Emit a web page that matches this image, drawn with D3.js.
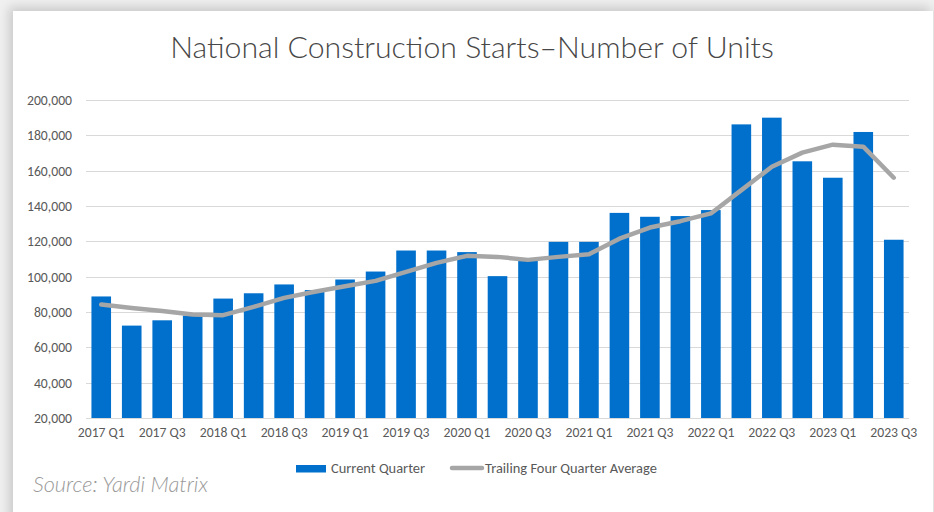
<!DOCTYPE html>
<html>
<head>
<meta charset="utf-8">
<script src="https://cdn.jsdelivr.net/npm/d3@7"></script>
<style>
  html, body { margin: 0; padding: 0; background: #f0f0f0; overflow: hidden; }
  #card {
    position: absolute; left: 13px; top: 11px; width: 920px; height: 520px;
    background: #fff;
    box-shadow: -4px -4px 10px rgba(0,0,0,0.16);
    border-right: 1px solid #e2e2e2;
  }
  svg { position: absolute; left: 0; top: 0; }
</style>
</head>
<body>
<div id="card"></div>
<svg id="chart" width="934" height="512"></svg>
<script>
// quarters on the x axis
let quarters = [
  "2017 Q1","2017 Q2","2017 Q3","2017 Q4",
  "2018 Q1","2018 Q2","2018 Q3","2018 Q4",
  "2019 Q1","2019 Q2","2019 Q3","2019 Q4",
  "2020 Q1","2020 Q2","2020 Q3","2020 Q4",
  "2021 Q1","2021 Q2","2021 Q3","2021 Q4",
  "2022 Q1","2022 Q2","2022 Q3","2022 Q4",
  "2023 Q1","2023 Q2","2023 Q3"
];

// units started in each quarter (bars)
let currentQuarter = [
  88800, 72300, 75300, 78000,
  87600, 90600, 95600, 92400,
  98400, 102900, 114800, 114800,
  113900, 100300, 109400, 119700,
  119700, 136100, 133900, 134300,
  137700, 186200, 190000, 165300,
  156000, 181900, 120900
];

// trailing four quarter average (line)
let trailingAvg = [
  84200, 82300, 80600, 78600,
  78200, 82900, 88000, 91500,
  94600, 97600, 102700, 107800,
  111800, 111200, 109500, 111200,
  112700, 121500, 127800, 131400,
  135800, 149000, 162200, 170200,
  174700, 173600, 156000
];

let yTicks = [20000, 40000, 60000, 80000, 100000, 120000, 140000, 160000, 180000, 200000];

let titleText = "National Construction Starts\u2013Number of Units";
let sourceText = "Source: Yardi Matrix";
let legendNames = ["Current Quarter", "Trailing Four Quarter Average"];

// set a text's font size so it spans the given width
function fitWidth(sel, width) {
    let fs = parseFloat(sel.attr('font-size'));
    let w = sel.node().getComputedTextLength();
    sel.attr('font-size', fs * width / w);
    return fs * width / w;
}

function draw() {
    let LEFT = 86, RIGHT = 909, TOP = 100, BOTTOM = 418;
    let FONT = 'Carlito, Lato, "Open Sans", sans-serif';
    let svg = d3.select('#chart');

    let xScale = d3.scaleBand()
        .domain(quarters)
        .range([LEFT, RIGHT])
        .paddingInner(0.357)
        .paddingOuter(0.357 / 2);

    let yScale = d3.scaleLinear()
        .domain([20000, 200000])
        .range([BOTTOM, TOP]);

    // title
    let title = svg.append('text')
        .text(titleText)
        .attr('x', 472)
        .attr('y', 57.5)
        .attr('text-anchor', 'middle')
        .attr('font-family', 'Lato, "Open Sans", sans-serif')
        .attr('font-weight', 300)
        .attr('font-size', 24)
        .attr('fill', '#474747');
    fitWidth(title, 604);

    // work out the label size from one sample label
    let probe = svg.append('text')
        .attr('font-family', FONT)
        .attr('font-size', 12)
        .text(quarters[0]);
    let labelSize = fitWidth(probe, 47);
    probe.remove();

    // gridlines
    svg.append('g')
        .selectAll('line')
        .data(yTicks)
        .join('line')
        .attr('x1', LEFT)
        .attr('x2', RIGHT)
        .attr('y1', d => Math.round(yScale(d)) + 0.5)
        .attr('y2', d => Math.round(yScale(d)) + 0.5)
        .attr('stroke', '#d9d9d9')
        .attr('stroke-width', 1);

    // y axis labels
    let yAxis = svg.append('g')
        .attr('transform', `translate(${LEFT - 14},0)`)
        .call(d3.axisLeft(yScale).tickValues(yTicks).tickFormat(d3.format(',')).tickSize(0).tickPadding(0));
    yAxis.select('.domain').remove();
    yAxis.selectAll('text')
        .attr('font-family', FONT)
        .attr('font-size', labelSize)
        .attr('fill', '#595959');

    // bars
    svg.append('g')
        .selectAll('rect')
        .data(currentQuarter)
        .join('rect')
        .attr('x', (d, i) => xScale(quarters[i]))
        .attr('width', xScale.bandwidth())
        .attr('y', d => yScale(d))
        .attr('height', d => yScale(20000) - yScale(d))
        .attr('fill', '#0070cc');

    // x axis labels, every other quarter
    let xAxis = svg.append('g')
        .attr('transform', `translate(0,${BOTTOM + 9})`)
        .call(d3.axisBottom(xScale)
            .tickValues(quarters.filter((q, i) => i % 2 == 0))
            .tickSize(0).tickPadding(0));
    xAxis.select('.domain').remove();
    xAxis.selectAll('text')
        .attr('font-family', FONT)
        .attr('font-size', labelSize)
        .attr('fill', '#595959');

    // trailing average line
    let lineGenerator = d3.line()
        .x((d, i) => xScale(quarters[i]) + xScale.bandwidth() / 2)
        .y(d => yScale(d));

    svg.append('path')
        .datum(trailingAvg)
        .attr('d', lineGenerator)
        .attr('fill', 'none')
        .attr('stroke', '#a6a6a6')
        .attr('stroke-width', 4.5)
        .attr('stroke-linejoin', 'round')
        .attr('stroke-linecap', 'round');

    // legend
    let legend = svg.append('g')
        .attr('font-family', FONT)
        .attr('fill', '#595959');
    legend.append('rect')
        .attr('x', 296).attr('y', 465)
        .attr('width', 30).attr('height', 7.5)
        .attr('fill', '#0070cc');
    let l1 = legend.append('text')
        .attr('x', 331).attr('y', 473)
        .attr('font-size', 13)
        .text(legendNames[0]);
    legend.append('line')
        .attr('x1', 452).attr('x2', 482)
        .attr('y1', 468).attr('y2', 468)
        .attr('stroke', '#a6a6a6')
        .attr('stroke-width', 4.5)
        .attr('stroke-linecap', 'round');
    let l2 = legend.append('text')
        .attr('x', 485).attr('y', 473)
        .attr('font-size', 13)
        .text(legendNames[1]);
    let legendSize = fitWidth(l2, 172);
    l1.attr('font-size', legendSize);

    // source note
    let src = svg.append('text')
        .attr('x', 33).attr('y', 491.5)
        .attr('font-family', 'Lato, "Open Sans", sans-serif')
        .attr('font-style', 'italic')
        .attr('font-weight', 300)
        .attr('font-size', 17)
        .attr('fill', '#999999')
        .text(sourceText);
    fitWidth(src, 175);
}

draw();
</script>
</body>
</html>
